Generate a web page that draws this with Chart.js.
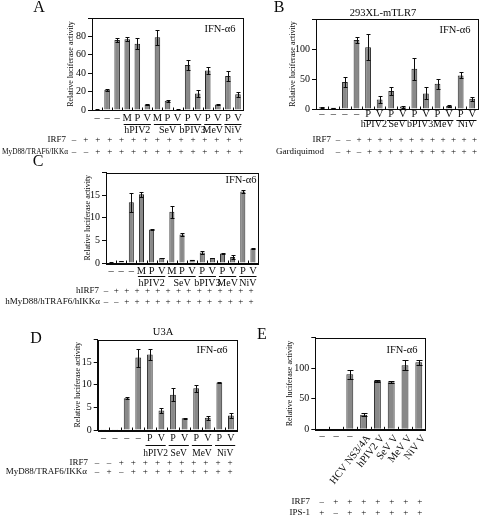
<!DOCTYPE html>
<html>
<head>
<meta charset="utf-8">
<script src="https://cdn.jsdelivr.net/npm/chart.js@4.4.1/dist/chart.umd.min.js"></script>
<style>
  body { margin: 0; background: #fff; }
  canvas { position: absolute; }
</style>
</head>
<body>
<canvas id="chartA" width="245" height="165" style="left:0px;top:0px"></canvas>
<canvas id="chartB" width="235" height="165" style="left:245px;top:0px"></canvas>
<canvas id="chartC" width="262" height="165" style="left:0px;top:145px"></canvas>
<canvas id="chartD" width="245" height="215" style="left:0px;top:305px"></canvas>
<canvas id="chartE" width="235" height="215" style="left:245px;top:305px"></canvas>
<script>
var SERIF = "'Liberation Serif', 'DejaVu Serif', serif";
var INK = '#0a0a0a';

// A
var labelsA = ['–','–','–','M','P','V','M','P','V','P','V','P','V','P','V'];
var valuesA = [0.5, 22, 76, 77, 72, 6, 79, 10, 0.5, 49, 18, 43, 6, 37, 17];
var errorsA = [0.3, 1, 2.5, 2.5, 6, 0.5, 8, 1, 0.3, 5, 4, 4, 0.5, 5, 2.5];
var groupsA = ['hPIV2','SeV','bPIV3','MeV','NiV'];
var groupFromA = [3, 6, 9, 11, 13];
var groupToA = [5, 8, 10, 12, 14];
var irf7A = ['–','+','+','+','+','+','+','+','+','+','+','+','+','+','+'];
var myd88A = ['–','–','+','+','+','+','+','+','+','+','+','+','+','+','+'];

// B
var labelsB = ['–','–','–','–','P','V','P','V','P','V','P','V','P','V'];
var valuesB = [3, 2, 45, 115, 103, 16, 30, 4, 67, 26, 42, 5, 56, 17];
var errorsB = [0.8, 0.5, 9, 5, 22, 6, 7, 1.5, 18, 10, 8, 1, 5, 3];
var groupsB = ['hPIV2','SeV','bPIV3','MeV','NiV'];
var groupFromB = [4, 6, 8, 10, 12];
var groupToB = [5, 7, 9, 11, 13];
var irf7B = ['–','–','+','+','+','+','+','+','+','+','+','+','+','+'];
var gardB = ['–','+','–','+','+','+','+','+','+','+','+','+','+','+'];

// C
var labelsC = ['–','–','–','M','P','V','M','P','V','P','V','P','V','P','V'];
var valuesC = [0.1, 0.4, 13.4, 15.2, 7.4, 1.1, 11.3, 6.3, 0.7, 2.3, 1.1, 2.1, 1.3, 15.8, 3.2];
var errorsC = [0.05, 0.05, 2.1, 0.6, 0.1, 0.1, 1.3, 0.4, 0.05, 0.3, 0.1, 0.15, 0.4, 0.4, 0.15];
var groupsC = ['hPIV2','SeV','bPIV3','MeV','NiV'];
var groupFromC = [3, 6, 9, 11, 13];
var groupToC = [5, 8, 10, 12, 14];
var irf7C = ['–','+','+','+','+','+','+','+','+','+','+','+','+','+','+'];
var myd88C = ['–','–','+','+','+','+','+','+','+','+','+','+','+','+','+'];

// D
var labelsD = ['–','–','–','–','P','V','P','V','P','V','P','V'];
var valuesD = [0.05, 0.05, 7.0, 16, 16.7, 4.3, 7.8, 2.6, 9.2, 2.7, 10.5, 3.2];
var errorsD = [0, 0, 0.2, 2, 1.2, 0.5, 1.5, 0.15, 0.8, 0.5, 0.1, 0.5];
var groupsD = ['hPIV2','SeV','MeV','NiV'];
var groupFromD = [4, 6, 8, 10];
var groupToD = [5, 7, 9, 11];
var irf7D = ['–','–','+','+','+','+','+','+','+','+','+','+'];
var myd88D = ['–','+','–','+','+','+','+','+','+','+','+','+'];

// E
var labelsE = ['–','–','–','HCV NS3/4A','hPIV2 V','SeV V','MeV V','NiV V'];
var valuesE = [0, 0, 90, 24, 79, 77, 105, 110];
var errorsE = [0, 0, 7, 3, 1, 1.5, 8, 4];
var irf7E = ['–','+','+','+','+','+','+','+'];
var ips1E = ['+','–','+','+','+','+','+','+'];

function makePanel(p) {
  var canvas = document.getElementById(p.id);
  var W = canvas.width, H = canvas.height;
  var ox = parseFloat(canvas.style.left), oy = parseFloat(canvas.style.top);
  var bl = p.box[0] - ox, bt = p.box[1] - oy, br = p.box[2] - ox, bb = p.box[3] - oy;
  var lh = 8 * 1.2;
  var padL = p.titleX - ox - lh / 2;

  var extras = {
    id: 'extras',
    afterDatasetsDraw: function (chart) {
      var ctx = chart.ctx, ys = chart.scales.y, xs = chart.scales.x, ca = chart.chartArea;
      var step = xs.getPixelForValue(1) - xs.getPixelForValue(0);
      ctx.save();
      ctx.strokeStyle = INK;
      ctx.fillStyle = INK;
      ctx.lineWidth = 1;
      ctx.textBaseline = 'middle';

      // error bars
      chart.getDatasetMeta(0).data.forEach(function (bar, i) {
        var e = p.errors[i];
        if (!e) return;
        var v = p.values[i];
        var yt = Math.round(ys.getPixelForValue(v + e)) + 0.5;
        var yb = Math.round(ys.getPixelForValue(Math.max(0, v - e))) + 0.5;
        var x = Math.round(bar.x) + 0.5, hw = Math.round(bar.width * 0.4);
        ctx.beginPath();
        ctx.moveTo(x, yt); ctx.lineTo(x, yb);
        ctx.moveTo(x - hw, yt); ctx.lineTo(x + hw, yt);
        ctx.moveTo(x - hw, yb); ctx.lineTo(x + hw, yb);
        ctx.stroke();
      });

      // frame + little inside ticks
      ctx.strokeRect(Math.round(ca.left) + 0.5, Math.round(ca.top) + 0.5,
        Math.round(ca.right - ca.left), Math.round(ca.bottom - ca.top));
      ctx.beginPath();
      for (var i = 1; i < p.labels.length; i++) {
        var tx = Math.round(xs.getPixelForValue(i) - step / 2) + 0.5;
        ctx.moveTo(tx, ca.bottom); ctx.lineTo(tx, ca.bottom - 2.5);
      }
      ctx.stroke();

      // category labels
      ctx.font = p.xFont + 'px ' + SERIF;
      p.labels.forEach(function (lab, i) {
        var x = xs.getPixelForValue(i), y = ca.bottom + p.xLabY;
        if (p.rotate && lab !== '–') {
          ctx.save();
          ctx.translate(x + 5, y);
          ctx.rotate(-p.rotate * Math.PI / 180);
          ctx.textAlign = 'right';
          ctx.fillText(lab, 0, 0);
          ctx.restore();
        } else {
          ctx.textAlign = 'center';
          ctx.fillText(lab, x, y);
        }
      });

      // virus groups
      if (p.groups) {
        ctx.font = p.grpFont + 'px ' + SERIF;
        ctx.beginPath();
        p.groups.forEach(function (g, k) {
          var x1 = xs.getPixelForValue(p.groupFrom[k]) - step / 2 + 1.5;
          var x2 = xs.getPixelForValue(p.groupTo[k]) + step / 2 - 1.5;
          var ly = Math.round(ca.bottom + p.grpLineY) + 0.5;
          ctx.moveTo(x1, ly); ctx.lineTo(x2, ly);
          ctx.textAlign = 'center';
          ctx.fillText(g, (x1 + x2) / 2, ca.bottom + p.grpLabY);
        });
        ctx.stroke();
      }

      // transfection rows
      ctx.font = p.rowFont + 'px ' + SERIF;
      p.rows.forEach(function (r) {
        ctx.textAlign = 'right';
        if (r.maxW) ctx.fillText(r.label, r.labelRight - ox, r.y - oy, r.maxW);
        else ctx.fillText(r.label, r.labelRight - ox, r.y - oy);
        ctx.textAlign = 'center';
        r.items.forEach(function (s, i) {
          ctx.fillText(s, r.x0 - ox + i * r.dx, r.y - oy);
        });
      });

      // panel texts
      ctx.textAlign = 'center';
      ctx.font = '10.5px ' + SERIF;
      ctx.fillText('IFN-α6', p.ifn[0] - ox, p.ifn[1] - oy);
      if (p.title) ctx.fillText(p.title, p.titlePos[0] - ox, p.titlePos[1] - oy);
      ctx.font = '16px ' + SERIF;
      ctx.fillText(p.letter, p.letterPos[0] - ox, p.letterPos[1] - oy);
      ctx.restore();
    }
  };

  return new Chart(canvas, {
    type: 'bar',
    data: {
      labels: p.labels,
      datasets: [{
        data: p.values,
        backgroundColor: '#898989',
        borderColor: '#262626',
        borderWidth: 1,
        barPercentage: p.barPct,
        categoryPercentage: 1
      }]
    },
    options: {
      responsive: false,
      animation: false,
      layout: { padding: { left: padL, top: bt, right: W - br, bottom: H - bb } },
      plugins: { legend: { display: false }, tooltip: { enabled: false } },
      scales: {
        x: {
          ticks: { display: false },
          grid: { display: false },
          border: { display: true, color: INK, width: 1 },
          afterFit: function (s) { s.height = 0; }
        },
        y: {
          min: 0,
          max: p.yMax,
          ticks: {
            stepSize: p.yStep,
            color: INK,
            padding: 2,
            font: { family: SERIF, size: 10 },
            callback: function (v) { return v === p.yMax ? '' : v; }
          },
          grid: { drawOnChartArea: false, drawTicks: true, tickLength: 4, color: INK },
          border: { color: INK, width: 1 },
          title: {
            display: true,
            text: 'Relative luciferase activity',
            color: INK,
            padding: 0,
            font: { family: SERIF, size: 8 }
          },
          afterFit: function (s) { s.width = bl - padL; }
        }
      }
    },
    plugins: [extras]
  });
}

makePanel({
  id: 'chartA', box: [92, 18, 243, 110], titleX: 71, yMax: 100, yStep: 20, barPct: 0.55,
  labels: labelsA, values: valuesA, errors: errorsA,
  groups: groupsA, groupFrom: groupFromA, groupTo: groupToA,
  xFont: 10.5, grpFont: 10, rowFont: 9, xLabY: 8, grpLineY: 14, grpLabY: 20.5,
  rows: [
    { label: 'IRF7', items: irf7A, y: 140, labelRight: 66, x0: 74, dx: 11.9 },
    { label: 'MyD88/TRAF6/IKKα', items: myd88A, y: 152, labelRight: 68, x0: 74, dx: 11.9, maxW: 66 }
  ],
  ifn: [220, 29], letter: 'A', letterPos: [39, 8]
});

makePanel({
  id: 'chartB', box: [316, 19, 478, 109], titleX: 293, yMax: 150, yStep: 50, barPct: 0.5,
  labels: labelsB, values: valuesB, errors: errorsB,
  groups: groupsB, groupFrom: groupFromB, groupTo: groupToB,
  xFont: 10.5, grpFont: 10, rowFont: 9, xLabY: 5.5, grpLineY: 10.5, grpLabY: 15.5,
  rows: [
    { label: 'IRF7', items: irf7B, y: 140, labelRight: 331, x0: 338, dx: 10.5 },
    { label: 'Gardiquimod', items: gardB, y: 152, labelRight: 324, x0: 338, dx: 10.5 }
  ],
  ifn: [455, 30], title: '293XL-mTLR7', titlePos: [383, 13], letter: 'B', letterPos: [279, 8]
});

makePanel({
  id: 'chartC', box: [106, 172.5, 258, 263], titleX: 88, yMax: 20, yStep: 5, barPct: 0.5,
  labels: labelsC, values: valuesC, errors: errorsC,
  groups: groupsC, groupFrom: groupFromC, groupTo: groupToC,
  xFont: 10.5, grpFont: 10, rowFont: 9, xLabY: 8, grpLineY: 12.5, grpLabY: 20,
  rows: [
    { label: 'hIRF7', items: irf7C, y: 291, labelRight: 99, x0: 106, dx: 10.36 },
    { label: 'hMyD88/hTRAF6/hIKKα', items: myd88C, y: 302, labelRight: 100, x0: 106, dx: 10.36, maxW: 98 }
  ],
  ifn: [241, 180], letter: 'C', letterPos: [38, 162]
});

makePanel({
  id: 'chartD', box: [97.7, 339.5, 236.7, 430], titleX: 78, yMax: 20, yStep: 5, barPct: 0.5,
  labels: labelsD, values: valuesD, errors: errorsD,
  groups: groupsD, groupFrom: groupFromD, groupTo: groupToD,
  xFont: 10, grpFont: 9.5, rowFont: 9, xLabY: 8, grpLineY: 15, grpLabY: 23,
  rows: [
    { label: 'IRF7', items: irf7D, y: 463, labelRight: 88, x0: 97, dx: 12.1 },
    { label: 'MyD88/TRAF6/IKKα', items: myd88D, y: 472, labelRight: 87, x0: 97, dx: 12.1, maxW: 85 }
  ],
  ifn: [212, 350], title: 'U3A', titlePos: [163, 332], letter: 'D', letterPos: [36, 339]
});

makePanel({
  id: 'chartE', box: [315.3, 337.7, 425.7, 429.3], titleX: 290, yMax: 150, yStep: 50, barPct: 0.5,
  labels: labelsE, values: valuesE, errors: errorsE,
  xFont: 10.5, rowFont: 9, xLabY: 7, rotate: 52,
  rows: [
    { label: 'IRF7', items: irf7E, y: 502, labelRight: 310, x0: 321.7, dx: 14 },
    { label: 'IPS-1', items: ips1E, y: 513, labelRight: 310, x0: 321.7, dx: 14 }
  ],
  ifn: [402, 350], letter: 'E', letterPos: [262, 335]
});
</script>
</body>
</html>
